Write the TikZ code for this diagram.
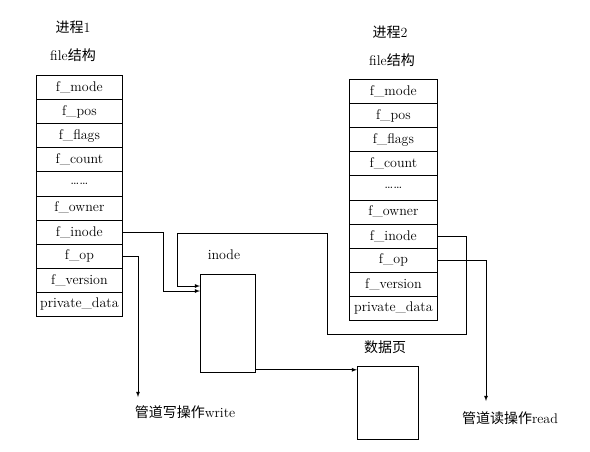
\documentclass[tikz,border=0pt]{standalone}
\usepackage{fontspec}
\newfontfamily\cjk{Noto Sans CJK SC}
\begin{document}
\begin{tikzpicture}[x=1pt, y=-1pt, line width=0.8pt,
    every node/.style={font=\fontsize{14}{16}\selectfont},
    field/.style={shape=rectangle, draw, line width=0.8pt, minimum width=86pt, minimum height=24.1pt, inner sep=0pt, anchor=north west},
    blockbox/.style={shape=rectangle, draw, line width=0.8pt, inner sep=0pt, anchor=north west}]
            \useasboundingbox (0,0) rectangle (590,451);
            % Titles:
            \node (t1) at (73, 27) {{\cjk 进程}1};
            \node (s1) at (73, 55) {file{\cjk 结构}};
            \node (t2) at (390, 32) {{\cjk 进程}2};
            \node (s2) at (392, 60) {file{\cjk 结构}};
            % file structures:
            \foreach \t [count=\i] in {f\_mode, f\_pos, f\_flags, f\_count, \ldots\ldots, f\_owner, f\_inode, f\_op, f\_version, private\_data}{
                \node[field] (a\i) at (36, {75+(\i-1)*24.1}) {\t};
                \node[field, minimum width=88pt] (b\i) at (349, {79+(\i-1)*24.1}) {\t};
            }
            % inode and data page:
            \node[blockbox, minimum width=55pt, minimum height=98pt] (ino) at (200, 274) {};
            \node (inol) at (224, 255) {inode};
            \node[blockbox, minimum width=61pt, minimum height=73pt] (page) at (357, 366) {};
            \node (pagel) at (385, 347) {\cjk 数据页};
            \node (w) at (185, 412) {{\cjk 管道写操作}write};
            \node (r) at (510, 418) {{\cjk 管道读操作}read};
            \coordinate (wend) at (138, 397);
            \coordinate (rend) at (486, 401);
            % wires:
            \draw[-latex] (a7.east) -- ++(41, 0) |- ([yshift=-17pt]ino.north west);
            \draw[-latex] (b7.east) -| (466, 334) -| (327, 233) -| (177, 286) -- ([yshift=-12pt]ino.north west);
            \draw[-latex] (a8.east) -| (wend);
            \draw[-latex] (b8.east) -| (rend);
            \draw[-latex] ([yshift=3pt]ino.south east) -- ([yshift=3pt]ino.south east -| page.west);
        \end{tikzpicture}
\end{document}
